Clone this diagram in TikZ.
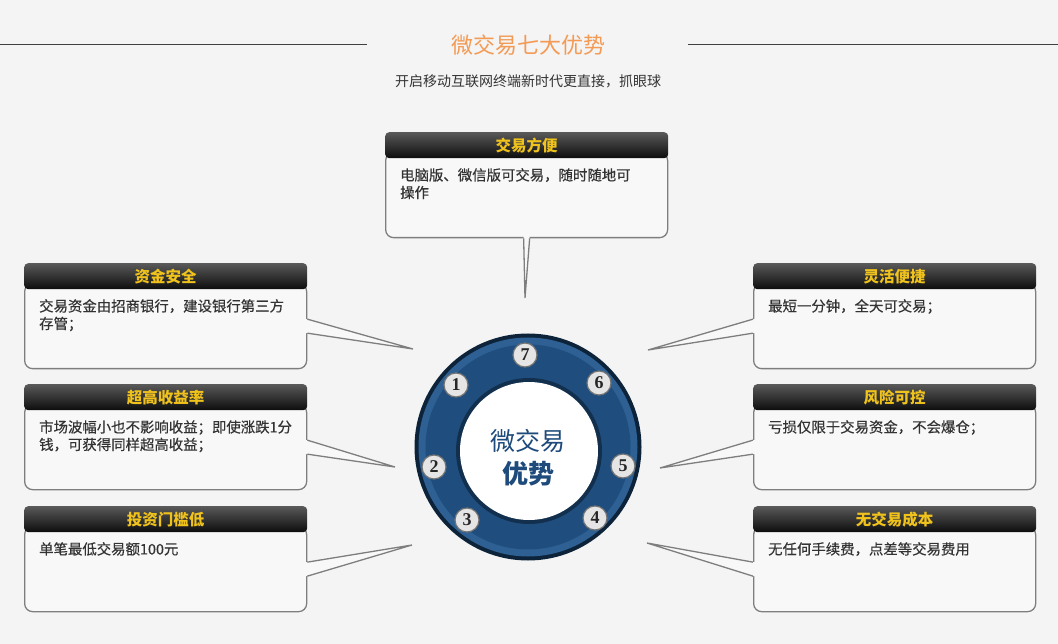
\documentclass[tikz,border=0pt]{standalone}
\usepackage{fontspec}
\setmainfont{Noto Sans CJK SC}
\newfontfamily\bodyfont[FakeBold=0.4]{Noto Sans CJK SC}
\newfontfamily\numfont{Liberation Serif}
\usetikzlibrary{positioning, calc}

\definecolor{pagebg}{HTML}{F4F4F4}
\definecolor{boxfill}{HTML}{F8F8F8}
\definecolor{boxline}{HTML}{7E7E7E}
\definecolor{gold}{HTML}{F0C21C}
\definecolor{titleorange}{HTML}{F39A55}
\definecolor{ringblue}{HTML}{1F4E7E}
\definecolor{ringlight}{HTML}{2E6094}
\definecolor{ringdark}{HTML}{0D2339}
\definecolor{hubtext}{HTML}{1E4B7B}

\tikzset{
  bodybox/.style={draw=boxline, fill=boxfill, line width=1.3pt, rounded corners=8pt,
    minimum width=282pt, minimum height=85pt, inner sep=0pt},
  headbox/.style={rounded corners=4pt, top color=black!65, bottom color=black!95,
    minimum width=283pt, minimum height=26pt, inner sep=0pt, text=gold,
    font=\fontsize{15.5}{15.5}\selectfont\bfseries},
  bodytext/.style={align=left, inner sep=0pt, text=black!80,
    font=\bodyfont\fontsize{14.4}{17.5}\selectfont},
  tipfill/.style={fill=boxfill},
  tipline/.style={draw=boxline, line width=1.3pt, line join=miter},
  numdisc/.style={circle, fill=black!10, draw=black!55, line width=1.2pt, minimum size=24pt,
    inner sep=0pt, text=black!85, font=\numfont\fontsize{18}{18}\selectfont\bfseries},
  ringdisc/.style={circle, inner sep=0pt},
}

% one box: name, left x, top y, title, text
\newcommand{\advbox}[5]{%
  \node[bodybox, anchor=north west] (b#1) at (#2,#3+20) {};
  \node[headbox, anchor=north west] (h#1) at (#2,#3) {#4};
  \node[bodytext, anchor=north west] (t#1) at (#2+15,#3+36) {#5};
}
% pointers: box, tip
\newcommand{\tipleft}[2]{%
  \fill[tipfill] ([shift={(-3pt,7pt)}]#1.east) -- ([yshift=7pt]#1.east) -- (#2)
    -- ([yshift=-7pt]#1.east) -- ([shift={(-3pt,-7pt)}]#1.east) -- cycle;
  \draw[tipline] ([yshift=7pt]#1.east) -- (#2) -- ([yshift=-7pt]#1.east);
}
\newcommand{\tipright}[2]{%
  \fill[tipfill] ([shift={(3pt,7pt)}]#1.west) -- ([yshift=7pt]#1.west) -- (#2)
    -- ([yshift=-7pt]#1.west) -- ([shift={(3pt,-7pt)}]#1.west) -- cycle;
  \draw[tipline] ([yshift=7pt]#1.west) -- (#2) -- ([yshift=-7pt]#1.west);
}

\begin{document}
\begin{tikzpicture}[x=1pt, y=-1pt]
  \useasboundingbox[fill=pagebg] (0,0) rectangle (1058,644);

  % heading
  \node[text=titleorange, font=\fontsize{22}{22}\selectfont] (title) at (528,45) {微交易七大优势};
  \node[text=black!80, font=\fontsize{14}{14}\selectfont] (subtitle) at (528,81) {开启移动互联网终端新时代更直接，抓眼球};
  \draw[black!75, line width=1pt] (0,45) -- (367,45) (688,45) -- (1058,45);

  % the seven boxes
  \advbox{0}{385}{132}{交易方便}{电脑版、微信版可交易，随时随地可\\操作}
  \advbox{1}{24}{263}{资金安全}{交易资金由招商银行，建设银行第三方\\存管；}
  \advbox{2}{24}{384}{超高收益率}{市场波幅小也不影响收益；即使涨跌1分\\钱，可获得同样超高收益；}
  \advbox{3}{24}{506}{投资门槛低}{单笔最低交易额100元}
  \advbox{4}{753}{263}{灵活便捷}{最短一分钟，全天可交易；}
  \advbox{5}{753}{384}{风险可控}{亏损仅限于交易资金，不会爆仓；}
  \advbox{6}{753}{506}{无交易成本}{无任何手续费，点差等交易费用}

  \coordinate (p0) at (525,298);
  \coordinate (p1) at (413,349);
  \coordinate (p2) at (395,467);
  \coordinate (p3) at (412,545);
  \coordinate (p4) at (648,350);
  \coordinate (p5) at (660,468);
  \coordinate (p6) at (647,543);

  \fill[tipfill] ([shift={(-3pt,3pt)}]b0.south) -- ([xshift=-3pt]b0.south) -- (p0)
    -- ([xshift=3pt]b0.south) -- ([shift={(3pt,3pt)}]b0.south) -- cycle;
  \draw[tipline] ([xshift=-3pt]b0.south) -- (p0) -- ([xshift=3pt]b0.south);
  \tipleft{b1}{p1}
  \tipleft{b2}{p2}
  \tipleft{b3}{p3}
  \tipright{b4}{p4}
  \tipright{b5}{p5}
  \tipright{b6}{p6}

  % hub
  \node[ringdisc, fill=ringdark, minimum size=227pt] (hub) at (528,447) {};
  \node[ringdisc, fill=ringlight, minimum size=219pt] (rim) at (hub) {};
  \node[ringdisc, fill=ringblue, minimum size=205pt] (ring) at (hub) {};
  \node[ringdisc, fill=ringdark!70!ringblue, minimum size=146pt] (coreshade) at (529,451) {};
  \node[ringdisc, fill=white, minimum size=138pt] (core) at (529,451) {};
  \node[text=hubtext, font=\fontsize{25}{25}\selectfont] (hubtop) at (528,441) {微交易};
  \node[text=hubtext, font=\fontsize{26}{26}\selectfont\bfseries] (hubbot) at (528,474) {优势};

  \foreach \k/\px/\py in {7/525/355, 1/456/385, 6/599/383, 2/434/467, 5/623/466, 3/467/520, 4/595/518}
    \node[numdisc] (n\k) at (\px,\py) {\k};
\end{tikzpicture}
\end{document}
